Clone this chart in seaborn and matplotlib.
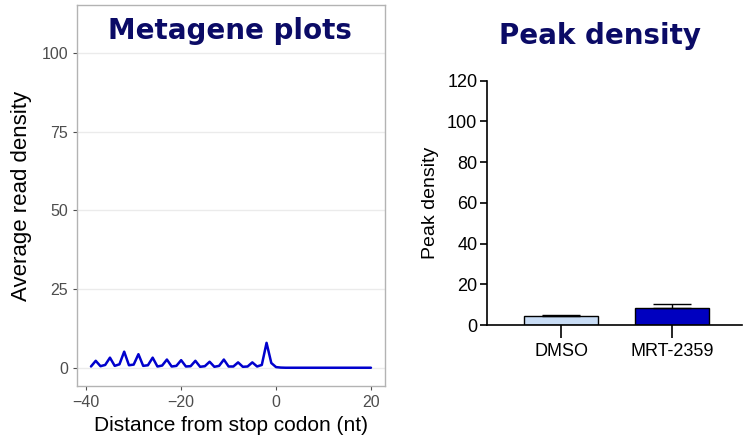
import numpy as np
import pandas as pd
import seaborn as sns
import matplotlib.pyplot as plt

# metagene profile: average read density around the stop codon
positions = list(range(-39, 21))
density = [0.5, 2.3, 0.6, 1.0, 3.3, 0.7, 1.2, 5.2, 0.9, 1.1, 4.4, 0.7, 0.9,
           3.3, 0.5, 0.8, 2.7, 0.5, 0.7, 2.5, 0.5, 0.6, 2.3, 0.4, 0.6, 2.0,
           0.4, 0.7, 2.7, 0.5, 0.5, 1.8, 0.4, 0.5, 1.8, 0.5, 1.0, 8.0, 1.6,
           0.3, 0.15, 0.1, 0.1, 0.1, 0.1, 0.1, 0.1, 0.1, 0.1, 0.1, 0.1, 0.1,
           0.1, 0.1, 0.1, 0.1, 0.1, 0.1, 0.1, 0.1]
spread = [0.3] * 39 + [0.05] * 21

# peak density per condition
conditions = ['DMSO', 'MRT-2359']
peak_mean = [4.2, 8.2]
peak_err = [0.5, 2.0]
bar_colors = ['#c8dcf5', '#0000c0']

title_color = '#0b0b66'
line_color = '#0000cd'

sns.set_theme(style='white')
plt.rcParams['font.family'] = ['Liberation Sans', 'DejaVu Sans']
plt.rcParams['text.color'] = 'black'
plt.rcParams['axes.labelcolor'] = 'black'

fig = plt.figure(figsize=(7.43, 4.44), dpi=100)

# left panel: metagene line plot
ax1 = fig.add_axes([0.1036, 0.1306, 0.4145, 0.8581])
meta = pd.DataFrame({'pos': positions, 'dens': density})
lo = np.array(density) - np.array(spread)
hi = np.array(density) + np.array(spread)
ax1.fill_between(positions, lo, hi, color='#9ec3f0', alpha=0.5, lw=0)
sns.lineplot(data=meta, x='pos', y='dens', ax=ax1, color=line_color, lw=1.8)
ax1.set_xlim(-41.95, 22.95)
ax1.set_ylim(-5.7, 115.2)
ax1.set_yticks([0, 25, 50, 75, 100])
ax1.set_xticks([-40, -20, 0, 20])
ax1.set_xticklabels(['\u221240', '\u221220', '0', '20'])
ax1.yaxis.grid(True, color='#ebebeb', lw=1)
ax1.xaxis.grid(False)
for s in ax1.spines.values():
    s.set_color('#b3b3b3')
    s.set_linewidth(1)
ax1.tick_params(axis='both', length=3, width=0.8, color='#4d4d4d',
                labelcolor='#4d4d4d', labelsize=11.5, direction='out',
                bottom=True, left=True)
ax1.set_xlabel('Distance from stop codon (nt)', fontsize=15)
ax1.set_ylabel('Average read density', fontsize=16, labelpad=7)

# right panel: bar plot with upper error bars
ax2 = fig.add_axes([0.6555, 0.268, 0.343, 0.5502])
bars = pd.DataFrame({'cond': conditions, 'val': peak_mean})
sns.barplot(data=bars, x='cond', y='val', hue='cond', palette=bar_colors,
            saturation=1, edgecolor='black', linewidth=1, width=0.67,
            legend=False, errorbar=None, ax=ax2)
ax2.errorbar(range(len(conditions)), peak_mean,
             yerr=[[0] * len(peak_err), peak_err], fmt='none',
             ecolor='black', elinewidth=1, capsize=13.5, capthick=1)
ax2.set_xlim(-0.668, 1.63)
ax2.set_ylim(0, 120)
ax2.set_yticks(range(0, 121, 20))
sns.despine(ax=ax2)
for s in ['left', 'bottom']:
    ax2.spines[s].set_color('black')
    ax2.spines[s].set_linewidth(1.2)
ax2.tick_params(axis='y', length=5, width=1.2, color='black',
                labelcolor='black', labelsize=13, left=True, pad=2)
ax2.tick_params(axis='x', length=9, width=1.2, color='black',
                labelcolor='black', labelsize=13, bottom=True, pad=4)
ax2.set_xlabel('')
ax2.set_ylabel('Peak density', fontsize=14, labelpad=6)

fig.text(230 / 743, 1 - 31 / 444, 'Metagene plots', ha='center', va='center',
         fontsize=20, fontweight='bold', color=title_color,
         family='DejaVu Sans')
fig.text(600 / 743, 1 - 36 / 444, 'Peak density', ha='center', va='center',
         fontsize=20, fontweight='bold', color=title_color,
         family='DejaVu Sans')

fig.savefig('out.png', dpi=100)
